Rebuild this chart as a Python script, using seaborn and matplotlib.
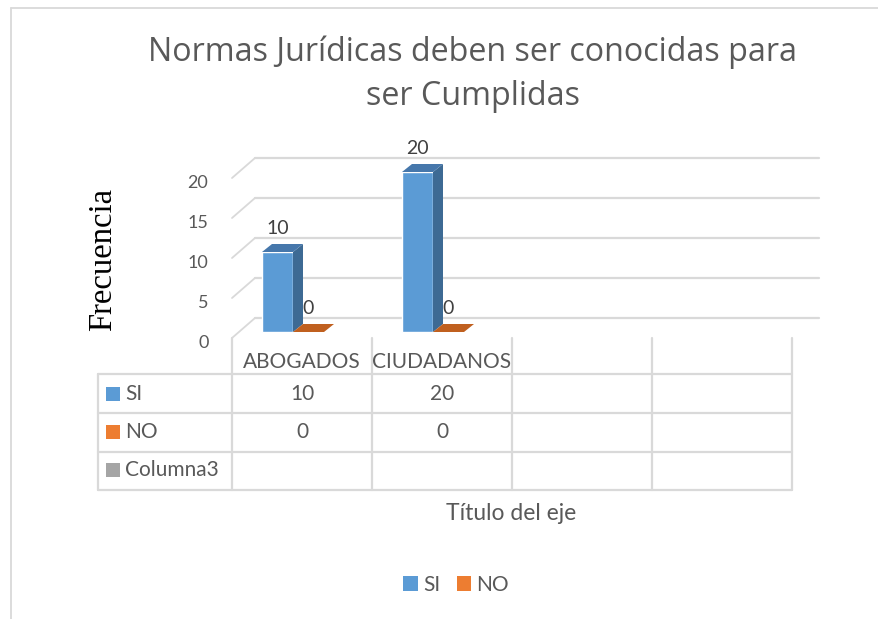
import numpy as np
import pandas as pd
import matplotlib
matplotlib.use("Agg")
import matplotlib.pyplot as plt
import matplotlib.transforms as mtransforms
from matplotlib.patches import Polygon, Rectangle, Patch
from matplotlib.lines import Line2D
import seaborn as sns

# ---- data ----
grupos = ["ABOGADOS", "CIUDADANOS"]
series = ["SI", "NO"]
si = [10, 20]
no = [0, 0]
extra_row = "Columna3"
n_cols = 4                      # the data table shows 4 columns, 2 of them empty
yticks = [0, 5, 10, 15, 20]
title_lines = ["Normas Jurídicas deben ser conocidas para", "ser Cumplidas"]
ylabel = "Frecuencia"
xlabel = "Título del eje"

sns.set_theme(style="white")
plt.rcParams["font.family"] = ["Lato", "DejaVu Sans"]

W, H, DPI = 879, 619, 100
TXT, GRID = "#595959", "#d9d9d9"
colors = {"SI": "#5b9bd5", "NO": "#ed7d31", extra_row: "#a5a5a5"}
side_c = {"SI": "#3d6a94", "NO": "#a9561c"}
top_c = {"SI": "#4677ab", "NO": "#c0601f"}
DX, DY = 10, 8          # depth of each 3d bar (pixels)
WX, WY = 23, 20         # depth of the back wall (pixels)
SX, SY = -9, 6          # shift of the bar row inside the floor


def fx(px): return px / W
def fy(py): return 1 - py / H


fig = plt.figure(figsize=(W / DPI, H / DPI), dpi=DPI)
fig.patch.set_facecolor("white")
ident = mtransforms.IdentityTransform()

# chart frame
fig.add_artist(Line2D([fx(11), 1], [fy(8), fy(8)], color=GRID, lw=1.3))
fig.add_artist(Line2D([fx(11), fx(11)], [fy(8), 0], color=GRID, lw=1.3))

ax = fig.add_axes([fx(232), fy(338), fx(792) - fx(232), (338 - 178) / H])
ax.patch.set_alpha(0)
df = pd.DataFrame({"grupo": grupos * 2,
                   "respuesta": ["SI"] * len(si) + ["NO"] * len(no),
                   "frecuencia": si + no})
sns.barplot(data=df, x="grupo", y="frecuencia", hue="respuesta", order=grupos,
            hue_order=series, palette=colors, width=0.443, saturation=1,
            legend=False, ax=ax, zorder=2)
ax.set_xlim(-0.5, n_cols - 0.5)
ax.set_ylim(0, 20)
ax.set_xticks([])
ax.set_yticks(yticks)
ax.set_xlabel(""); ax.set_ylabel("")
for s in ax.spines.values():
    s.set_visible(False)
ax.tick_params(axis="y", length=0, pad=17, labelsize=13, labelcolor=TXT)
for lbl in ax.get_yticklabels():
    lbl.set_transform(lbl.get_transform() +
                      mtransforms.ScaledTranslation(0, -0.035, fig.dpi_scale_trans))

# back wall gridlines + side wall diagonals
wall = mtransforms.offset_copy(ax.transData, fig=fig, x=WX, y=WY, units="dots")
for t in yticks:
    ax.plot([-0.5, n_cols - 0.47], [t, t], transform=wall, color=GRID, lw=1.6,
            clip_on=False, zorder=0)
    p = ax.transData.transform((-0.5, t))
    fig.add_artist(Line2D([p[0], p[0] + WX], [p[1], p[1] + WY], transform=ident,
                          color=GRID, lw=1.3))

# 3d bars: shift the fronts, add side and top faces
shift = mtransforms.offset_copy(ax.transData, fig=fig, x=SX, y=SY, units="dots")
for name, cont in zip(series, ax.containers):
    for bar in cont:
        x0, w, h = bar.get_x(), bar.get_width(), bar.get_height()
        (a0, b0), (a1, b1) = ax.transData.transform([(x0, 0), (x0 + w, h)])
        a0, a1, b0, b1 = a0 + SX, a1 + SX, b0 + SY, b1 + SY
        bar.set_transform(shift)
        bar.set_clip_on(False)
        side = Polygon([(a1, b0), (a1 + DX, b0 + DY), (a1 + DX, b1 + DY), (a1, b1)],
                       closed=True, transform=ident, facecolor=side_c[name],
                       edgecolor="none", zorder=2)
        top = Polygon([(a0, b1), (a1, b1), (a1 + DX, b1 + DY), (a0 + DX, b1 + DY)],
                      closed=True, transform=ident, facecolor=top_c[name],
                      edgecolor="none", zorder=2)
        fig.add_artist(side)
        fig.add_artist(top)

# data labels
lab = mtransforms.offset_copy(ax.transData, fig=fig, x=SX, y=SY + 24, units="dots")
for cont in ax.containers:
    for bar in cont:
        h = bar.get_height()
        ax.text(bar.get_x() + bar.get_width() / 2, h, f"{h:.0f}", transform=lab,
                ha="center", va="center", fontsize=14, color="#404040", clip_on=False)

# data table under the plot
blend = mtransforms.blended_transform_factory(ax.transData, fig.transFigure)
bounds = np.arange(n_cols + 1) - 0.5
for b in bounds:
    ax.plot([b, b], [fy(338), fy(490)], transform=blend, color=GRID, lw=1.6,
            clip_on=False)
right = ax.transData.transform((bounds[-1], 0))[0] / W
row_lines = [374, 413, 452, 490]
for ry in row_lines:
    fig.add_artist(Line2D([fx(98), right], [fy(ry), fy(ry)], color=GRID, lw=1.6))
fig.add_artist(Line2D([fx(98), fx(98)], [fy(374), fy(490)], color=GRID, lw=1.6))

for i, g in enumerate(grupos):
    ax.text(i, fy(362), g, transform=blend, ha="center", va="center",
            fontsize=15, color=TXT)
row_y = [394, 432, 470]
rows = [("SI", si), ("NO", no), (extra_row, None)]
for (name, vals), ry in zip(rows, row_y):
    fig.add_artist(Rectangle((fx(106), fy(ry + 7)), 14 / W, 14 / H,
                             facecolor=colors[name], edgecolor="none"))
    fig.text(fx(125), fy(ry), name, ha="left", va="center", fontsize=15, color=TXT)
    if vals is not None:
        for i, v in enumerate(vals):
            ax.text(i, fy(ry), str(v), transform=blend, ha="center", va="center",
                    fontsize=15, color=TXT)

# titles
fig.text(fx(102.5), fy(259.5), ylabel, rotation=90, ha="center", va="center",
         fontsize=23.5, color="black", family=["Liberation Serif", "DejaVu Serif"])
fig.text(fx(511), fy(513), xlabel, ha="center", va="center", fontsize=16.5, color=TXT)
for line, base in zip(title_lines, [61, 105]):
    fig.text(fx(473), fy(base), line, ha="center", va="baseline", fontsize=23.2,
             color=TXT, family=["Open Sans", "DejaVu Sans"])

# legend
handles = [Patch(facecolor=colors[s], edgecolor="none") for s in series]
fig.legend(handles, series, loc="center", bbox_to_anchor=(fx(456), fy(585)),
           ncol=2, frameon=False, fontsize=15, labelcolor=TXT, handlelength=0.7,
           handleheight=0.7, handletextpad=0.25, columnspacing=0.8)

fig.savefig("out.png", dpi=DPI)
